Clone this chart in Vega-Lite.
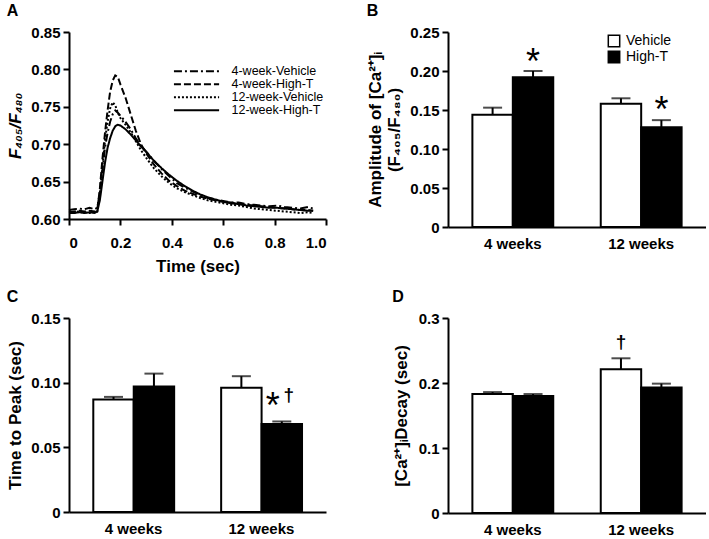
{
  "$schema": "https://vega.github.io/schema/vega-lite/v6.json",
  "padding": {"left": 6, "top": 3, "right": 0, "bottom": 0},
  "background": "white",
  "config": {
    "font": "Liberation Sans",
    "view": {"stroke": null},
    "axis": {
      "grid": false,
      "domainColor": "black",
      "domainWidth": 2,
      "tickColor": "black",
      "tickWidth": 2,
      "tickSize": 6,
      "labelFont": "Liberation Sans",
      "labelFontWeight": "bold",
      "labelFontSize": 15,
      "labelColor": "black",
      "labelPadding": 3,
      "labelOverlap": false,
      "titleFont": "Liberation Sans",
      "titleFontWeight": "bold",
      "titleFontSize": 17,
      "titleColor": "black"
    },
    "title": {"font": "Liberation Sans", "fontSize": 16, "fontWeight": "bold", "color": "black", "anchor": "start", "frame": "bounds", "offset": 6},
    "legend": {"labelFont": "Liberation Sans", "labelColor": "black", "padding": 0}
  },
  "resolve": {"scale": {"fill": "independent", "strokeDash": "independent"}, "legend": {"fill": "independent", "strokeDash": "independent"}},
  "columns": 2,
  "spacing": {"row": 15, "column": 39},
  "concat": [
    {
      "title": "A",
      "width": 257,
      "height": 187,
      "data": {"values": [
        {"s":"4-week-Vehicle","t":0,"v":0.612},{"s":"4-week-Vehicle","t":0.02,"v":0.613},{"s":"4-week-Vehicle","t":0.04,"v":0.614},{"s":"4-week-Vehicle","t":0.06,"v":0.613},{"s":"4-week-Vehicle","t":0.08,"v":0.615},{"s":"4-week-Vehicle","t":0.10,"v":0.613},{"s":"4-week-Vehicle","t":0.11,"v":0.615},{"s":"4-week-Vehicle","t":0.12,"v":0.635},{"s":"4-week-Vehicle","t":0.13,"v":0.665},{"s":"4-week-Vehicle","t":0.14,"v":0.695},{"s":"4-week-Vehicle","t":0.15,"v":0.715},{"s":"4-week-Vehicle","t":0.16,"v":0.73},{"s":"4-week-Vehicle","t":0.17,"v":0.74},{"s":"4-week-Vehicle","t":0.18,"v":0.745},{"s":"4-week-Vehicle","t":0.19,"v":0.742},{"s":"4-week-Vehicle","t":0.20,"v":0.738},{"s":"4-week-Vehicle","t":0.22,"v":0.73},{"s":"4-week-Vehicle","t":0.24,"v":0.72},{"s":"4-week-Vehicle","t":0.26,"v":0.708},{"s":"4-week-Vehicle","t":0.28,"v":0.698},{"s":"4-week-Vehicle","t":0.30,"v":0.69},{"s":"4-week-Vehicle","t":0.33,"v":0.678},{"s":"4-week-Vehicle","t":0.36,"v":0.667},{"s":"4-week-Vehicle","t":0.39,"v":0.657},{"s":"4-week-Vehicle","t":0.42,"v":0.648},{"s":"4-week-Vehicle","t":0.45,"v":0.642},{"s":"4-week-Vehicle","t":0.48,"v":0.637},{"s":"4-week-Vehicle","t":0.51,"v":0.632},{"s":"4-week-Vehicle","t":0.54,"v":0.628},{"s":"4-week-Vehicle","t":0.57,"v":0.626},{"s":"4-week-Vehicle","t":0.60,"v":0.624},{"s":"4-week-Vehicle","t":0.63,"v":0.622},{"s":"4-week-Vehicle","t":0.66,"v":0.622},{"s":"4-week-Vehicle","t":0.69,"v":0.62},{"s":"4-week-Vehicle","t":0.72,"v":0.619},{"s":"4-week-Vehicle","t":0.75,"v":0.618},{"s":"4-week-Vehicle","t":0.78,"v":0.617},{"s":"4-week-Vehicle","t":0.81,"v":0.618},{"s":"4-week-Vehicle","t":0.84,"v":0.616},{"s":"4-week-Vehicle","t":0.87,"v":0.615},{"s":"4-week-Vehicle","t":0.90,"v":0.614},{"s":"4-week-Vehicle","t":0.93,"v":0.616},{"s":"4-week-Vehicle","t":0.95,"v":0.614},
        {"s":"4-week-High-T","t":0,"v":0.609},{"s":"4-week-High-T","t":0.02,"v":0.61},{"s":"4-week-High-T","t":0.04,"v":0.611},{"s":"4-week-High-T","t":0.06,"v":0.61},{"s":"4-week-High-T","t":0.08,"v":0.611},{"s":"4-week-High-T","t":0.10,"v":0.61},{"s":"4-week-High-T","t":0.11,"v":0.612},{"s":"4-week-High-T","t":0.12,"v":0.64},{"s":"4-week-High-T","t":0.13,"v":0.68},{"s":"4-week-High-T","t":0.14,"v":0.715},{"s":"4-week-High-T","t":0.15,"v":0.745},{"s":"4-week-High-T","t":0.16,"v":0.77},{"s":"4-week-High-T","t":0.17,"v":0.785},{"s":"4-week-High-T","t":0.18,"v":0.792},{"s":"4-week-High-T","t":0.19,"v":0.79},{"s":"4-week-High-T","t":0.20,"v":0.78},{"s":"4-week-High-T","t":0.22,"v":0.762},{"s":"4-week-High-T","t":0.24,"v":0.74},{"s":"4-week-High-T","t":0.26,"v":0.718},{"s":"4-week-High-T","t":0.28,"v":0.7},{"s":"4-week-High-T","t":0.30,"v":0.688},{"s":"4-week-High-T","t":0.33,"v":0.673},{"s":"4-week-High-T","t":0.36,"v":0.661},{"s":"4-week-High-T","t":0.39,"v":0.651},{"s":"4-week-High-T","t":0.42,"v":0.644},{"s":"4-week-High-T","t":0.45,"v":0.638},{"s":"4-week-High-T","t":0.48,"v":0.634},{"s":"4-week-High-T","t":0.51,"v":0.63},{"s":"4-week-High-T","t":0.54,"v":0.627},{"s":"4-week-High-T","t":0.57,"v":0.625},{"s":"4-week-High-T","t":0.60,"v":0.623},{"s":"4-week-High-T","t":0.63,"v":0.622},{"s":"4-week-High-T","t":0.66,"v":0.62},{"s":"4-week-High-T","t":0.69,"v":0.619},{"s":"4-week-High-T","t":0.72,"v":0.618},{"s":"4-week-High-T","t":0.75,"v":0.617},{"s":"4-week-High-T","t":0.78,"v":0.616},{"s":"4-week-High-T","t":0.81,"v":0.615},{"s":"4-week-High-T","t":0.84,"v":0.614},{"s":"4-week-High-T","t":0.87,"v":0.613},{"s":"4-week-High-T","t":0.90,"v":0.612},{"s":"4-week-High-T","t":0.93,"v":0.612},{"s":"4-week-High-T","t":0.95,"v":0.611},
        {"s":"12-week-Vehicle","t":0,"v":0.61},{"s":"12-week-Vehicle","t":0.02,"v":0.609},{"s":"12-week-Vehicle","t":0.04,"v":0.61},{"s":"12-week-Vehicle","t":0.06,"v":0.609},{"s":"12-week-Vehicle","t":0.08,"v":0.608},{"s":"12-week-Vehicle","t":0.10,"v":0.609},{"s":"12-week-Vehicle","t":0.11,"v":0.61},{"s":"12-week-Vehicle","t":0.12,"v":0.635},{"s":"12-week-Vehicle","t":0.13,"v":0.67},{"s":"12-week-Vehicle","t":0.14,"v":0.705},{"s":"12-week-Vehicle","t":0.15,"v":0.73},{"s":"12-week-Vehicle","t":0.16,"v":0.748},{"s":"12-week-Vehicle","t":0.17,"v":0.756},{"s":"12-week-Vehicle","t":0.18,"v":0.752},{"s":"12-week-Vehicle","t":0.19,"v":0.742},{"s":"12-week-Vehicle","t":0.20,"v":0.735},{"s":"12-week-Vehicle","t":0.22,"v":0.726},{"s":"12-week-Vehicle","t":0.24,"v":0.716},{"s":"12-week-Vehicle","t":0.26,"v":0.704},{"s":"12-week-Vehicle","t":0.28,"v":0.692},{"s":"12-week-Vehicle","t":0.30,"v":0.682},{"s":"12-week-Vehicle","t":0.33,"v":0.668},{"s":"12-week-Vehicle","t":0.36,"v":0.657},{"s":"12-week-Vehicle","t":0.39,"v":0.648},{"s":"12-week-Vehicle","t":0.42,"v":0.641},{"s":"12-week-Vehicle","t":0.45,"v":0.636},{"s":"12-week-Vehicle","t":0.48,"v":0.632},{"s":"12-week-Vehicle","t":0.51,"v":0.628},{"s":"12-week-Vehicle","t":0.54,"v":0.625},{"s":"12-week-Vehicle","t":0.57,"v":0.623},{"s":"12-week-Vehicle","t":0.60,"v":0.621},{"s":"12-week-Vehicle","t":0.63,"v":0.619},{"s":"12-week-Vehicle","t":0.66,"v":0.618},{"s":"12-week-Vehicle","t":0.69,"v":0.616},{"s":"12-week-Vehicle","t":0.72,"v":0.614},{"s":"12-week-Vehicle","t":0.75,"v":0.613},{"s":"12-week-Vehicle","t":0.78,"v":0.612},{"s":"12-week-Vehicle","t":0.81,"v":0.611},{"s":"12-week-Vehicle","t":0.84,"v":0.61},{"s":"12-week-Vehicle","t":0.87,"v":0.609},{"s":"12-week-Vehicle","t":0.90,"v":0.608},{"s":"12-week-Vehicle","t":0.93,"v":0.609},{"s":"12-week-Vehicle","t":0.95,"v":0.608},
        {"s":"12-week-High-T","t":0,"v":0.608},{"s":"12-week-High-T","t":0.02,"v":0.608},{"s":"12-week-High-T","t":0.04,"v":0.609},{"s":"12-week-High-T","t":0.06,"v":0.608},{"s":"12-week-High-T","t":0.08,"v":0.609},{"s":"12-week-High-T","t":0.10,"v":0.608},{"s":"12-week-High-T","t":0.11,"v":0.61},{"s":"12-week-High-T","t":0.12,"v":0.625},{"s":"12-week-High-T","t":0.13,"v":0.65},{"s":"12-week-High-T","t":0.14,"v":0.675},{"s":"12-week-High-T","t":0.15,"v":0.695},{"s":"12-week-High-T","t":0.16,"v":0.708},{"s":"12-week-High-T","t":0.17,"v":0.718},{"s":"12-week-High-T","t":0.18,"v":0.724},{"s":"12-week-High-T","t":0.19,"v":0.726},{"s":"12-week-High-T","t":0.20,"v":0.725},{"s":"12-week-High-T","t":0.22,"v":0.72},{"s":"12-week-High-T","t":0.24,"v":0.713},{"s":"12-week-High-T","t":0.26,"v":0.705},{"s":"12-week-High-T","t":0.28,"v":0.697},{"s":"12-week-High-T","t":0.30,"v":0.69},{"s":"12-week-High-T","t":0.33,"v":0.678},{"s":"12-week-High-T","t":0.36,"v":0.668},{"s":"12-week-High-T","t":0.39,"v":0.659},{"s":"12-week-High-T","t":0.42,"v":0.651},{"s":"12-week-High-T","t":0.45,"v":0.644},{"s":"12-week-High-T","t":0.48,"v":0.638},{"s":"12-week-High-T","t":0.51,"v":0.633},{"s":"12-week-High-T","t":0.54,"v":0.629},{"s":"12-week-High-T","t":0.57,"v":0.626},{"s":"12-week-High-T","t":0.60,"v":0.623},{"s":"12-week-High-T","t":0.63,"v":0.621},{"s":"12-week-High-T","t":0.66,"v":0.62},{"s":"12-week-High-T","t":0.69,"v":0.618},{"s":"12-week-High-T","t":0.72,"v":0.617},{"s":"12-week-High-T","t":0.75,"v":0.616},{"s":"12-week-High-T","t":0.78,"v":0.615},{"s":"12-week-High-T","t":0.81,"v":0.615},{"s":"12-week-High-T","t":0.84,"v":0.614},{"s":"12-week-High-T","t":0.87,"v":0.613},{"s":"12-week-High-T","t":0.90,"v":0.612},{"s":"12-week-High-T","t":0.93,"v":0.611},{"s":"12-week-High-T","t":0.95,"v":0.611}
      ]},
      "mark": {"type": "line", "color": "black", "strokeWidth": 2},
      "encoding": {
        "x": {"field": "t", "type": "quantitative", "scale": {"domain": [0, 1], "nice": false},
              "axis": {"values": [0, 0.2, 0.4, 0.6, 0.8, 1], "labelExpr": "datum.value == 0 ? '0' : format(datum.value, '.1f')", "title": "Time (sec)", "labelPadding": 10, "titlePadding": 8}},
        "y": {"field": "v", "type": "quantitative", "scale": {"domain": [0.6, 0.85], "nice": false, "zero": false},
              "axis": {"values": [0.6, 0.65, 0.7, 0.75, 0.8, 0.85], "format": ".2f", "title": "F₄₀₅/F₄₈₀", "titleFontStyle": "italic", "titlePadding": 6}},
        "strokeDash": {"field": "s", "type": "nominal",
              "scale": {"domain": ["4-week-Vehicle", "4-week-High-T", "12-week-Vehicle", "12-week-High-T"], "range": [[8, 3, 2, 3], [7, 3], [2, 2], [1, 0]]},
              "legend": {"orient": "none", "legendX": 103, "legendY": 33, "title": null, "symbolType": "M-1,0H9.5", "symbolSize": 74, "symbolStrokeWidth": 2, "symbolStrokeColor": "black", "symbolFillColor": "transparent", "labelFontSize": 12.5, "labelFontWeight": "normal", "rowPadding": -5, "labelOffset": 47}}
      }
    },
    {
      "title": "B",
      "width": 258,
      "height": 195,
      "data": {"values": [
        {"week": "4 weeks", "group": "Vehicle", "value": 0.144, "upper": 0.153},
        {"week": "4 weeks", "group": "High-T", "value": 0.192, "upper": 0.200},
        {"week": "12 weeks", "group": "Vehicle", "value": 0.158, "upper": 0.165},
        {"week": "12 weeks", "group": "High-T", "value": 0.128, "upper": 0.137}
      ]},
      "encoding": {
        "x": {"field": "week", "type": "nominal", "sort": ["4 weeks", "12 weeks"], "scale": {"paddingInner": 0.37, "paddingOuter": 0.19},
              "axis": {"title": null, "ticks": false, "labelAngle": 0, "labelPadding": 9}},
        "xOffset": {"field": "group", "type": "nominal", "sort": ["Vehicle", "High-T"], "scale": {"paddingInner": 0, "paddingOuter": 0}}
      },
      "layer": [
        {
          "mark": {"type": "bar", "stroke": "black", "strokeWidth": 2},
          "encoding": {
            "y": {"field": "value", "type": "quantitative", "scale": {"domain": [0, 0.25], "nice": false},
                  "axis": {"values": [0, 0.05, 0.1, 0.15, 0.2, 0.25], "labelExpr": "datum.value == 0 ? '0' : format(datum.value, '.2f')", "title": ["Amplitude of [Ca²⁺]ᵢ", "(F₄₀₅/F₄₈₀)"], "titlePadding": 6}},
            "fill": {"field": "group", "type": "nominal", "scale": {"domain": ["Vehicle", "High-T"], "range": ["white", "black"]},
                  "legend": {"orient": "none", "legendX": 159, "legendY": 2, "title": null, "symbolType": "square", "symbolSize": 130, "symbolStrokeColor": "black", "symbolStrokeWidth": 1.5, "labelFontSize": 14, "labelFontWeight": "normal", "rowPadding": -3, "labelOffset": 5}}
          }
        },
        {
          "mark": {"type": "rule", "color": "black", "strokeWidth": 2},
          "encoding": {"y": {"field": "value", "type": "quantitative", "axis": {"values": [0, 0.05, 0.1, 0.15, 0.2, 0.25], "labelExpr": "datum.value == 0 ? '0' : format(datum.value, '.2f')", "title": ["Amplitude of [Ca²⁺]ᵢ", "(F₄₀₅/F₄₈₀)"], "titlePadding": 6}}, "y2": {"field": "upper"}}
        },
        {
          "mark": {"type": "tick", "color": "black", "thickness": 2, "size": 19},
          "encoding": {"y": {"field": "upper", "type": "quantitative", "axis": {"values": [0, 0.05, 0.1, 0.15, 0.2, 0.25], "labelExpr": "datum.value == 0 ? '0' : format(datum.value, '.2f')", "title": ["Amplitude of [Ca²⁺]ᵢ", "(F₄₀₅/F₄₈₀)"], "titlePadding": 6}}}
        },
        {
          "data": {"values": [
            {"week": "4 weeks", "group": "High-T", "label": "*", "y": 0.196},
            {"week": "12 weeks", "group": "High-T", "label": "*", "y": 0.135}
          ]},
          "mark": {"type": "text", "font": "Liberation Sans", "fontSize": 36, "baseline": "alphabetic", "align": "center", "color": "black"},
          "encoding": {"y": {"field": "y", "type": "quantitative", "axis": {"values": [0, 0.05, 0.1, 0.15, 0.2, 0.25], "labelExpr": "datum.value == 0 ? '0' : format(datum.value, '.2f')", "title": ["Amplitude of [Ca²⁺]ᵢ", "(F₄₀₅/F₄₈₀)"], "titlePadding": 6}}, "text": {"field": "label"}}
        }
      ]
    },
    {
      "title": "C",
      "width": 257,
      "height": 194,
      "data": {"values": [
        {"week": "4 weeks", "group": "Vehicle", "value": 0.087, "upper": 0.089},
        {"week": "4 weeks", "group": "High-T", "value": 0.097, "upper": 0.107},
        {"week": "12 weeks", "group": "Vehicle", "value": 0.096, "upper": 0.105},
        {"week": "12 weeks", "group": "High-T", "value": 0.068, "upper": 0.070}
      ]},
      "encoding": {
        "x": {"field": "week", "type": "nominal", "sort": ["4 weeks", "12 weeks"], "scale": {"paddingInner": 0.37, "paddingOuter": 0.19},
              "axis": {"title": null, "ticks": false, "labelAngle": 0, "labelPadding": 9}},
        "xOffset": {"field": "group", "type": "nominal", "sort": ["Vehicle", "High-T"], "scale": {"paddingInner": 0, "paddingOuter": 0}}
      },
      "layer": [
        {
          "mark": {"type": "bar", "stroke": "black", "strokeWidth": 2},
          "encoding": {
            "y": {"field": "value", "type": "quantitative", "scale": {"domain": [0, 0.15], "nice": false},
                  "axis": {"values": [0, 0.05, 0.1, 0.15], "labelExpr": "datum.value == 0 ? '0' : format(datum.value, '.2f')", "title": "Time to Peak (sec)", "titlePadding": 6}},
            "fill": {"field": "group", "type": "nominal", "scale": {"domain": ["Vehicle", "High-T"], "range": ["white", "black"]}, "legend": null}
          }
        },
        {
          "mark": {"type": "rule", "color": "black", "strokeWidth": 2},
          "encoding": {"y": {"field": "value", "type": "quantitative", "axis": {"values": [0, 0.05, 0.1, 0.15], "labelExpr": "datum.value == 0 ? '0' : format(datum.value, '.2f')", "title": "Time to Peak (sec)", "titlePadding": 6}}, "y2": {"field": "upper"}}
        },
        {
          "mark": {"type": "tick", "color": "black", "thickness": 2, "size": 19},
          "encoding": {"y": {"field": "upper", "type": "quantitative", "axis": {"values": [0, 0.05, 0.1, 0.15], "labelExpr": "datum.value == 0 ? '0' : format(datum.value, '.2f')", "title": "Time to Peak (sec)", "titlePadding": 6}}}
        },
        {
          "data": {"values": [
            {"week": "12 weeks", "group": "High-T", "label": "*", "y": 0.0727}
          ]},
          "mark": {"type": "text", "font": "Liberation Sans", "fontSize": 36, "baseline": "alphabetic", "align": "center", "color": "black", "dx": -9},
          "encoding": {"y": {"field": "y", "type": "quantitative", "axis": {"values": [0, 0.05, 0.1, 0.15], "labelExpr": "datum.value == 0 ? '0' : format(datum.value, '.2f')", "title": "Time to Peak (sec)", "titlePadding": 6}}, "text": {"field": "label"}}
        },
        {
          "data": {"values": [
            {"week": "12 weeks", "group": "High-T", "label": "†", "y": 0.0858}
          ]},
          "mark": {"type": "text", "font": "Liberation Sans", "fontSize": 19, "fontWeight": "bold", "baseline": "alphabetic", "align": "center", "color": "black", "dx": 7},
          "encoding": {"y": {"field": "y", "type": "quantitative", "axis": {"values": [0, 0.05, 0.1, 0.15], "labelExpr": "datum.value == 0 ? '0' : format(datum.value, '.2f')", "title": "Time to Peak (sec)", "titlePadding": 6}}, "text": {"field": "label"}}
        }
      ]
    },
    {
      "title": "D",
      "width": 258,
      "height": 195,
      "data": {"values": [
        {"week": "4 weeks", "group": "Vehicle", "value": 0.183, "upper": 0.186},
        {"week": "4 weeks", "group": "High-T", "value": 0.180, "upper": 0.183},
        {"week": "12 weeks", "group": "Vehicle", "value": 0.221, "upper": 0.238},
        {"week": "12 weeks", "group": "High-T", "value": 0.193, "upper": 0.199}
      ]},
      "encoding": {
        "x": {"field": "week", "type": "nominal", "sort": ["4 weeks", "12 weeks"], "scale": {"paddingInner": 0.37, "paddingOuter": 0.19},
              "axis": {"title": null, "ticks": false, "labelAngle": 0, "labelPadding": 9}},
        "xOffset": {"field": "group", "type": "nominal", "sort": ["Vehicle", "High-T"], "scale": {"paddingInner": 0, "paddingOuter": 0}}
      },
      "layer": [
        {
          "mark": {"type": "bar", "stroke": "black", "strokeWidth": 2},
          "encoding": {
            "y": {"field": "value", "type": "quantitative", "scale": {"domain": [0, 0.3], "nice": false},
                  "axis": {"values": [0, 0.1, 0.2, 0.3], "labelExpr": "datum.value == 0 ? '0' : format(datum.value, '.1f')", "title": "[Ca²⁺]ᵢDecay (sec)", "titlePadding": 8}},
            "fill": {"field": "group", "type": "nominal", "scale": {"domain": ["Vehicle", "High-T"], "range": ["white", "black"]}, "legend": null}
          }
        },
        {
          "mark": {"type": "rule", "color": "black", "strokeWidth": 2},
          "encoding": {"y": {"field": "value", "type": "quantitative", "axis": {"values": [0, 0.1, 0.2, 0.3], "labelExpr": "datum.value == 0 ? '0' : format(datum.value, '.1f')", "title": "[Ca²⁺]ᵢDecay (sec)", "titlePadding": 8}}, "y2": {"field": "upper"}}
        },
        {
          "mark": {"type": "tick", "color": "black", "thickness": 2, "size": 19},
          "encoding": {"y": {"field": "upper", "type": "quantitative", "axis": {"values": [0, 0.1, 0.2, 0.3], "labelExpr": "datum.value == 0 ? '0' : format(datum.value, '.1f')", "title": "[Ca²⁺]ᵢDecay (sec)", "titlePadding": 8}}}
        },
        {
          "data": {"values": [
            {"week": "12 weeks", "group": "Vehicle", "label": "†", "y": 0.2535}
          ]},
          "mark": {"type": "text", "font": "Liberation Sans", "fontSize": 19, "fontWeight": "bold", "baseline": "alphabetic", "align": "center", "color": "black"},
          "encoding": {"y": {"field": "y", "type": "quantitative", "axis": {"values": [0, 0.1, 0.2, 0.3], "labelExpr": "datum.value == 0 ? '0' : format(datum.value, '.1f')", "title": "[Ca²⁺]ᵢDecay (sec)", "titlePadding": 8}}, "text": {"field": "label"}}
        }
      ]
    }
  ]
}
